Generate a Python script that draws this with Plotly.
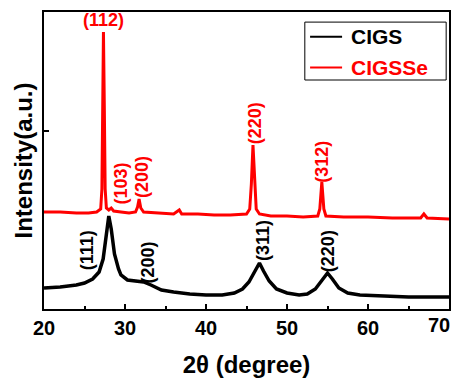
import plotly.graph_objects as go

# 2-theta (degree) and intensity (a.u.)
cigs_x = [20.0, 22.0, 24.0, 25.0, 26.0, 26.8, 27.3, 27.7, 28.0, 28.3, 28.7, 29.2, 29.5,
          30.3, 31.5, 32.3, 33.2, 34.5, 36.0, 38.0, 40.0, 42.0, 43.5, 44.5, 45.3, 46.0,
          46.6, 47.1, 47.8, 48.7, 50.0, 51.5, 52.5, 53.5, 54.3, 55.0, 55.6, 56.4, 57.5,
          59.0, 62.0, 65.0, 68.0, 70.0]
cigs_y = [21, 22, 24, 26, 30, 37, 50, 75, 93, 80, 55, 40, 34,
          29, 28, 27, 24, 19, 17, 15, 14, 14, 16, 20, 27, 37,
          46, 38, 28, 20, 16, 14, 15, 20, 28, 36, 30, 21, 16,
          14, 13, 12, 12, 12]

cigsse_x = [20.0, 22.0, 24.0, 25.5, 26.5, 27.0, 27.15, 27.25, 27.34, 27.45, 27.55, 27.7,
            28.0, 28.3, 28.6, 29.5, 30.5, 31.3, 31.55, 31.74, 31.95, 32.3, 34.0, 36.0,
            36.7, 37.0, 39.0, 41.0, 43.0, 45.0, 45.4, 45.6, 45.8, 46.0, 46.2, 46.6, 48.0,
            50.0, 52.0, 53.8, 54.05, 54.3, 54.55, 54.8, 57.0, 60.0, 63.0, 66.5, 66.9,
            67.3, 70.0]
cigsse_y = [97, 97, 96, 96, 97, 100, 120, 200, 277, 200, 120, 101,
            99, 101, 98, 97, 96, 97, 102, 110, 101, 97, 96, 95,
            99, 95, 95, 94, 94, 95, 100, 125, 164, 125, 100, 95, 93,
            93, 92, 93, 100, 127, 100, 93, 92, 92, 91, 91, 95,
            91, 90]

series_names = ["CIGS", "CIGSSe"]
series_colors = ["black", "red"]
series_widths = [3.5, 3]

red_labels = ["(112)", "(103)", "(200)", "(220)", "(312)"]
red_label_x = [27.34, 29.56, 32.1, 46.08, 54.3]
red_label_y = [289, 126, 132, 186, 147]
red_label_angle = [0, -90, -90, -90, -90]

black_labels = ["(111)", "(200)", "(311)", "(220)"]
black_label_x = [25.33, 32.9, 47.03, 55.08]
black_label_y = [59, 47, 69, 58]

x_ticks = [20, 30, 40, 50, 60, 70]
x_tick_text = ["20", "30", "40", "50", "60", "70"]
y_ticks = [178]

FONT = "Arial, Liberation Sans, sans-serif"

fig = go.Figure()
for xs, ys, name, col, w in zip([cigs_x, cigsse_x], [cigs_y, cigsse_y], series_names,
                                series_colors, series_widths):
    fig.add_trace(go.Scatter(x=xs, y=ys, mode="lines", name=name,
                             line=dict(color=col, width=w), showlegend=False))

for t, x, y, a in zip(red_labels, red_label_x, red_label_y, red_label_angle):
    fig.add_annotation(x=x, y=y, text=t, textangle=a, showarrow=False,
                       font=dict(family=FONT, size=18, color="red", weight="bold"))
for t, x, y in zip(black_labels, black_label_x, black_label_y):
    fig.add_annotation(x=x, y=y, text=t, textangle=-90, showarrow=False,
                       font=dict(family=FONT, size=18, color="black", weight="bold"))

# last tick label kept inside the page (right-aligned on its tick)
fig.add_annotation(x=x_ticks[-1], y=0, xref="x", yref="paper", text=x_tick_text[-1],
                   xanchor="right", yanchor="top", xshift=3, yshift=-3, showarrow=False,
                   font=dict(family=FONT, size=20, color="black", weight="bold"))

# legend box drawn as decoration
fig.add_shape(type="rect", xref="paper", yref="paper", x0=0.644, x1=0.993, y0=0.771, y1=0.966,
              line=dict(color="black", width=1), fillcolor="white", layer="above")
leg_y = [0.917, 0.813]
for name, col, ly in zip(series_names, series_colors, leg_y):
    fig.add_shape(type="line", xref="paper", yref="paper", x0=0.657, x1=0.736, y0=ly, y1=ly,
                  line=dict(color=col, width=2), layer="above")
    fig.add_annotation(x=0.753, y=ly, xref="paper", yref="paper", text=name,
                       xanchor="left", yanchor="middle", showarrow=False,
                       font=dict(family=FONT, size=21, color=col, weight="bold"))

# page body adds an 8px margin, so the figure is 8px smaller and margins shifted
fig.update_layout(
    width=454, height=370,
    margin=dict(l=36, r=13, t=4, b=69),
    plot_bgcolor="white", paper_bgcolor="white",
    font=dict(family=FONT, color="black"),
    showlegend=False,
)
fig.update_xaxes(range=[20, 70], tickvals=x_ticks[:-1], ticktext=x_tick_text[:-1],
                 ticks="inside", ticklen=5,
                 tickwidth=1.5, tickcolor="black", automargin=False,
                 minor=dict(tickvals=[25, 35, 45, 55, 65], ticks="inside", ticklen=3,
                            tickcolor="black", tickwidth=1.5),
                 showline=True, linecolor="black", linewidth=1.5, mirror=True,
                 showgrid=False, zeroline=False,
                 tickfont=dict(family=FONT, size=20, color="black", weight="bold"),
                 title=dict(text="2θ (degree)", standoff=20,
                            font=dict(family=FONT, size=24, color="black", weight="bold")))
fig.update_yaxes(range=[0, 297], tickvals=y_ticks, ticks="inside", ticklen=5,
                 tickwidth=1.5, tickcolor="black", showticklabels=False, automargin=False,
                 showline=True, linecolor="black", linewidth=1.5, mirror=True,
                 showgrid=False, zeroline=False,
                 title=dict(text="Intensity(a.u.)", standoff=3,
                            font=dict(family=FONT, size=24, color="black", weight="bold")))

fig.write_html("out.html")
